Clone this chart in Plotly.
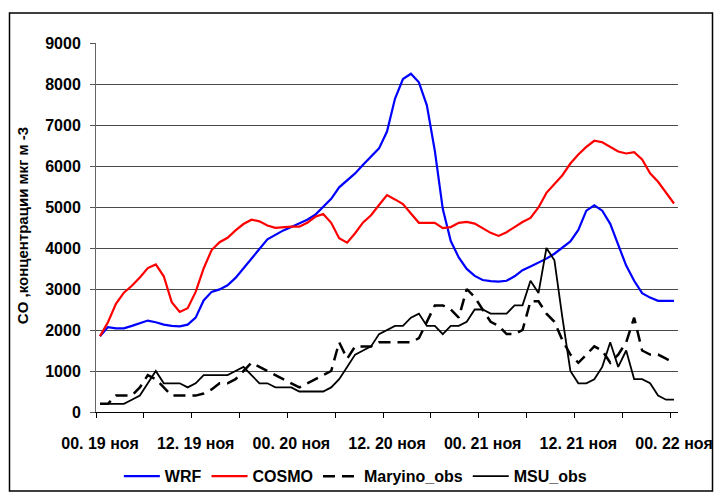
import plotly.graph_objects as go

# Hourly time steps, 00:00 19 Nov to 00:00 22 Nov
hours = list(range(73))

tick_positions = [0, 12, 24, 36, 48, 60, 72]
tick_labels = ["00. 19 ноя", "12. 19 ноя", "00. 20 ноя", "12. 20 ноя",
               "00. 21 ноя", "12. 21 ноя", "00. 22 ноя"]

wrf = [1850, 2070, 2040, 2040, 2100, 2160, 2230, 2190, 2130, 2100,
       2090, 2130, 2300, 2720, 2930, 2990, 3090, 3270, 3500, 3750,
       3980, 4210, 4320, 4430, 4510, 4600, 4690, 4810, 5000, 5200,
       5480, 5650, 5820, 6030, 6230, 6430, 6840, 7640, 8120, 8250,
       8040, 7480, 6370, 4950, 4170, 3770, 3490, 3320, 3220, 3190,
       3180, 3200, 3310, 3460, 3550, 3640, 3740, 3860, 4000, 4160,
       4440, 4910, 5040, 4910, 4590, 4060, 3570, 3200, 2900, 2790,
       2710, 2710, 2710]

cosmo = [1850, 2190, 2640, 2910, 3080, 3280, 3510, 3600, 3310, 2680,
         2440, 2530, 2930, 3500, 3950, 4140, 4250, 4430, 4585, 4690,
         4650, 4550, 4490, 4510, 4520, 4520, 4615, 4760, 4830, 4615,
         4240, 4130, 4360, 4625, 4800, 5050, 5290, 5185, 5070, 4840,
         4615, 4615, 4615, 4485, 4510, 4615, 4635, 4595, 4485, 4370,
         4295, 4385, 4510, 4635, 4735, 4990, 5345, 5560, 5775, 6060,
         6280, 6465, 6615, 6580, 6460, 6355, 6305, 6335, 6160, 5820,
         5615, 5350, 5085]

maryino_obs = [200, 200, 400, 400, 400, 600, 900, 800, 600, 400,
               400, 400, 400, 450, 550, 700, 700, 800, 1000, 1200,
               1100, 1000, 900, 800, 700, 600, 700, 800, 900, 1000,
               1700, 1300, 1600, 1600, 1600, 1700, 1700, 1700, 1700, 1700,
               1800, 2200, 2600, 2600, 2500, 2300, 3000, 2800, 2500, 2200,
               2100, 1900, 1900, 2000, 2700, 2700, 2400, 2200, 1750, 1400,
               1200, 1400, 1600, 1500, 1200, 1400, 1700, 2300, 1500, 1400,
               1400, 1300, 1200]

msu_obs = [200, 200, 200, 200, 300, 400, 700, 1000, 700, 700,
           700, 600, 700, 900, 900, 900, 900, 1000, 1100, 900,
           700, 700, 600, 600, 600, 500, 500, 500, 500, 600,
           800, 1100, 1400, 1500, 1600, 1900, 2000, 2100, 2100, 2300,
           2400, 2100, 2100, 1900, 2100, 2100, 2200, 2500, 2500, 2400,
           2400, 2400, 2600, 2600, 3200, 2900, 4000, 3700, 2300, 1000,
           700, 700, 800, 1100, 1700, 1100, 1500, 800, 800, 700,
           400, 300, 300]

FONT = "Liberation Sans, Arial, sans-serif"

fig = go.Figure()
fig.add_trace(go.Scatter(x=hours, y=wrf, name="WRF", mode="lines",
                         line=dict(color="#0000FF", width=2.2)))
fig.add_trace(go.Scatter(x=hours, y=cosmo, name="COSMO", mode="lines",
                         line=dict(color="#FF0000", width=2.2)))
fig.add_trace(go.Scatter(x=hours, y=maryino_obs, name="Maryino_obs", mode="lines",
                         line=dict(color="#000000", width=2.5, dash="12px,7px")))
fig.add_trace(go.Scatter(x=hours, y=msu_obs, name="MSU_obs", mode="lines",
                         line=dict(color="#000000", width=1.8)))

fig.update_layout(
    width=715, height=492,
    margin=dict(l=96, r=37, t=43, b=80, autoexpand=False),
    paper_bgcolor="white", plot_bgcolor="white",
    font=dict(family=FONT, size=16, color="black", weight="bold"),
    showlegend=True,
    legend=dict(orientation="h", xref="container", yref="container",
                x=0.497, xanchor="center", y=0.032, yanchor="middle",
                itemwidth=36, font=dict(size=16, weight="bold"),
                bgcolor="rgba(0,0,0,0)"),
    xaxis=dict(
        range=[-0.5, 72.5], tickmode="array", tickvals=tick_positions,
        ticktext=tick_labels, ticks="outside", ticklen=17,
        tickcolor="rgba(0,0,0,0)", showgrid=False, zeroline=False,
        showline=True, linecolor="black", linewidth=1, automargin=False,
        tickfont=dict(size=16, weight="bold"),
        minor=dict(tickmode="linear", tick0=-0.5, dtick=6, ticks="outside",
                   ticklen=5, tickcolor="black", tickwidth=1, showgrid=False),
    ),
    yaxis=dict(
        range=[0, 9000], tickmode="linear", tick0=0, dtick=1000,
        ticks="outside", ticklen=5, tickcolor="#555555",
        showgrid=True, gridcolor="#4a4a4a", gridwidth=1, zeroline=False,
        showline=True, linecolor="#666666", linewidth=1, automargin=False,
        tickfont=dict(size=16, weight="bold"), ticklabelstandoff=6,
    ),
    annotations=[dict(
        text="CO ,концентрации мкг м -3", xref="paper", yref="paper",
        x=-0.1263, y=0.505, xanchor="center", yanchor="middle",
        textangle=-90, showarrow=False,
        font=dict(size=15, weight="bold", family=FONT),
    )],
    shapes=[dict(
        type="rect", xref="paper", yref="paper",
        x0=(9.5 - 96) / 582, x1=(712.5 - 96) / 582,
        y0=(412 - 491) / 369, y1=(412 - 13) / 369,
        line=dict(color="black", width=1.5), fillcolor="rgba(0,0,0,0)",
        layer="below",
    )],
)

fig.write_html("out.html")
